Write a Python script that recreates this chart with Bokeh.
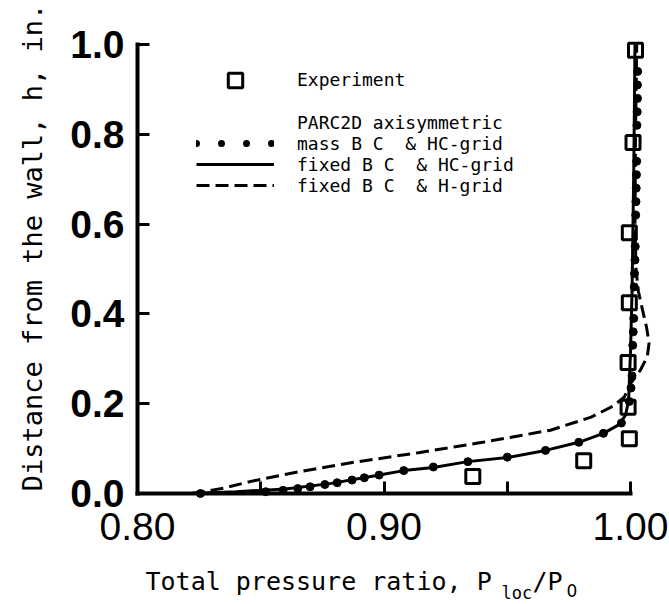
import math
from bokeh.plotting import figure
from bokeh.models import (FixedTicker, PrintfTickFormatter, Legend, LegendItem,
                          Label, Range1d)
from bokeh.embed import file_html
from bokeh.resources import INLINE

# ---------------- data ----------------
exp_x = [1.002, 1.001, 0.9995, 0.9995, 0.999, 0.999, 0.9995, 0.981, 0.936]
exp_y = [0.987, 0.782, 0.581, 0.425, 0.292, 0.192, 0.122, 0.073, 0.038]

fixed_hc_x = [0.821, 0.840, 0.860, 0.878, 0.897, 0.908, 0.920, 0.934, 0.950,
              0.9655, 0.979, 0.989, 0.9955, 0.998, 0.9992, 1.0000, 1.0006,
              1.0010, 1.0013, 1.0016, 1.0018]
fixed_hc_y = [0.000, 0.004, 0.010, 0.022, 0.040, 0.051, 0.058, 0.071, 0.080,
              0.096, 0.114, 0.134, 0.154, 0.175, 0.207, 0.318, 0.450,
              0.600, 0.720, 0.880, 1.000]

mass_hc_x = [0.8255, 0.852, 0.859, 0.865, 0.870, 0.876, 0.881, 0.887, 0.892,
             0.898, 0.908, 0.920, 0.934, 0.950, 0.9655, 0.979, 0.989, 0.9963,
             0.9995, 1.0002, 1.0006, 1.0009, 1.0011, 1.0013, 1.0015, 1.0016,
             1.0018, 1.0019, 1.0021, 1.0022, 1.0023, 1.0024, 1.0025, 1.0026,
             1.0027, 1.0028, 1.0028, 1.0029]
mass_hc_y = [0.000, 0.004, 0.007, 0.011, 0.015, 0.020, 0.024, 0.030, 0.035,
             0.041, 0.051, 0.059, 0.071, 0.081, 0.096, 0.114, 0.134, 0.157,
             0.205, 0.235, 0.262, 0.330, 0.360, 0.390, 0.460, 0.490,
             0.520, 0.550, 0.620, 0.650, 0.680, 0.710, 0.740, 0.820,
             0.850, 0.880, 0.910, 0.940]

fixed_h_x = [0.822, 0.835, 0.846, 0.866, 0.886, 0.914, 0.940, 0.9675, 0.984,
             0.993, 0.9975, 1.0000, 1.0040, 1.0068, 1.0075, 1.0065, 1.0048,
             1.0032, 1.0022, 1.0018, 1.0020, 1.0025]
fixed_h_y = [0.000, 0.012, 0.027, 0.049, 0.068, 0.091, 0.114, 0.141, 0.170,
             0.195, 0.215, 0.245, 0.275, 0.305, 0.335, 0.370, 0.410,
             0.450, 0.500, 0.600, 0.800, 1.000]

x_major = [0.80, 0.90, 1.00]
x_minor = [0.85, 0.95]
y_major = [0.0, 0.2, 0.4, 0.6, 0.8, 1.0]

x_title = "Total pressure ratio, P"
x_sub1 = "loc"
x_mid = "/P"
x_sub2 = "0"
y_title = "Distance from the wall, h, in."

legend_exp = "Experiment"
legend_head = "PARC2D axisymmetric"
legend_mass = "mass B C\u00a0 & HC-grid"
legend_fixed_hc = "fixed B C\u00a0 & HC-grid"
legend_fixed_h = "fixed B C\u00a0 & H-grid"

MONO = "DejaVu Sans Mono"
W, H = 669, 604

# ---------------- figure: the frame covers the whole canvas ----------------
p = figure(frame_width=W, frame_height=H,
           x_range=Range1d(0.7444, 1.0158), y_range=Range1d(-0.2472, 1.0980),
           output_backend="svg", toolbar_location=None,
           min_border=0)
p.outline_line_color = None
p.grid.visible = False
p.background_fill_color = "white"
p.border_fill_color = "white"

for ax, ticks, minor, fmt, loc, bnd in (
        (p.xaxis[0], x_major, x_minor, "%.2f", 0.0, (0.80, 1.00)),
        (p.yaxis[0], y_major, [], "%.1f", 0.80, (0.0, 1.0))):
    ax.fixed_location = loc
    ax.bounds = bnd
    ax.ticker = FixedTicker(ticks=ticks, minor_ticks=minor)
    ax.formatter = PrintfTickFormatter(format=fmt)
    ax.axis_line_width = 4
    ax.axis_line_color = "black"
    ax.axis_line_cap = "square"
    ax.major_tick_in = 12
    ax.major_tick_out = 0
    ax.major_tick_line_width = 3
    ax.minor_tick_in = 12
    ax.minor_tick_out = 0
    ax.minor_tick_line_width = 3
    ax.major_label_text_font = "Liberation Sans"
    ax.major_label_text_font_size = "39px"
    ax.major_label_text_color = "black"

p.xaxis[0].major_label_standoff = 19
p.yaxis[0].major_label_standoff = 13
p.yaxis[0].major_label_text_font_style = "bold"

# ---------------- data glyphs ----------------
r_dash = p.line(fixed_h_x, fixed_h_y, line_color="black", line_width=3,
                line_dash="13 6")
r_solid = p.line(fixed_hc_x, fixed_hc_y, line_color="black", line_width=3)
p.scatter(mass_hc_x, mass_hc_y, marker="circle", size=8,
          fill_color="black", line_color="black")
r_sq = p.scatter(exp_x, exp_y, marker="square", size=14, fill_color=None,
                 line_color="black", line_width=3)

# legend-only renderers (not drawn in the plot area)
r_head = p.line(mass_hc_x, mass_hc_y, line_alpha=0, visible=False)
r_dots = p.line(mass_hc_x, mass_hc_y, line_color="black", line_width=7,
                line_dash="0 25", line_cap="round", visible=False)

common = dict(glyph_width=78, label_standoff=23, padding=0, margin=0,
              spacing=0, border_line_color=None, background_fill_alpha=0,
              label_text_font=MONO, label_text_font_size="18px",
              label_text_color="black")


def one_item_legend(label, renderer, center_y, gh):
    # center_y: row centre measured from the top of the picture
    return Legend(items=[LegendItem(label=label, renderers=[renderer])],
                  location=(196, H - center_y - gh / 2),
                  glyph_height=gh, label_height=gh, **common)


p.add_layout(one_item_legend(legend_exp, r_sq, 79.5, 36))
p.add_layout(one_item_legend(legend_head, r_head, 122, 30))
p.add_layout(one_item_legend(legend_mass, r_dots, 143, 30))
p.add_layout(one_item_legend(legend_fixed_hc, r_solid, 164, 30))
p.add_layout(one_item_legend(legend_fixed_h, r_dash, 185, 30))


# ---------------- axis titles ----------------
def title_label(text, x, y, size, angle=0.0, align="left",
                baseline="alphabetic", font=MONO):
    return Label(x=x, y=y, x_units="screen", y_units="screen", text=text,
                 angle=angle, text_align=align, text_baseline=baseline,
                 text_font=font, text_font_size=size, text_color="black")


p.add_layout(title_label(y_title, 32, H - 247, "27px", angle=math.pi / 2,
                         align="center", baseline="middle"))
p.add_layout(title_label(x_title, 145, H - 581, "25px"))
p.add_layout(title_label(x_sub1, 501, H - 592, "17px"))
p.add_layout(title_label(x_mid, 532, H - 581, "25px"))
p.add_layout(title_label(x_sub2, 566, H - 590, "17px", font="DejaVu Sans"))

open("out.html", "w").write(file_html(p, INLINE))
